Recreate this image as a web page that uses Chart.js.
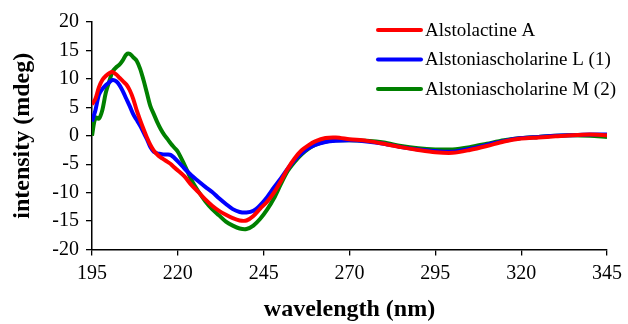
<!DOCTYPE html>
<html>
<head>
<meta charset="utf-8">
<script src="https://cdn.jsdelivr.net/npm/chart.js@4/dist/chart.umd.min.js"></script>
<style>
  html, body { margin: 0; padding: 0; background: #fff; }
  #wrap { width: 628px; height: 324px; }
</style>
</head>
<body>
<div id="wrap"><canvas id="cdChart"></canvas></div>
<script>
// wavelength (nm) shared by the three spectra
const wavelengths = [195,196,197,198,199,200,201,202,203,204,205,206,207,208,209,210,211,212,213,214,215,216,217,218,219,220,
  222,224,226,228,230,232,234,236,238,240,242,244,246,248,250,252,254,256,258,260,263,266,270,275,280,285,290,295,300,305,310,315,320,325,330,335,340,345];

const alstolactineA = [5.5,6.5,8.5,9.8,10.5,11,11.2,10.8,10.2,9.6,9,8,6.5,4.5,2.8,1.2,-0.3,-1.6,-2.6,-3.3,-3.8,-4.2,-4.6,-5,-5.6,-6.1,
  -7.2,-8.7,-9.9,-11.2,-12.3,-13.2,-13.9,-14.5,-14.9,-14.9,-14.1,-12.8,-11.6,-10,-8,-5.8,-4,-2.6,-1.7,-1,-0.4,-0.3,-0.6,-0.9,-1.4,-2,-2.5,-2.9,-3,-2.5,-1.8,-1,-0.5,-0.3,-0.1,0.1,0.2,0.1];

const alstoniascholarineL = [2.5,4.5,7.2,8.2,8.9,9.4,9.8,9.6,8.9,7.8,6.5,5.2,3.8,2.8,1.8,0.6,-0.6,-2,-2.8,-3.1,-3.2,-3.3,-3.3,-3.4,-3.9,-4.5,
  -5.8,-7,-8,-9,-9.9,-11,-12,-12.9,-13.4,-13.5,-13.2,-12.2,-10.8,-9.1,-7.5,-5.8,-4.3,-3.1,-2.2,-1.6,-1.1,-0.9,-0.8,-1,-1.4,-2,-2.4,-2.7,-2.8,-2.3,-1.6,-0.9,-0.4,-0.2,0,0.1,0.2,0.2];

const alstoniascholarineM = [0,3.2,3,4.5,7.5,9.5,11.3,12,12.5,13.3,14.3,14.4,13.8,13.2,11.8,9.8,7.5,5.2,3.8,2.4,1.2,0.2,-0.6,-1.4,-2.1,-2.8,
  -5.2,-7.8,-9.8,-11.5,-12.9,-14,-15.1,-15.8,-16.3,-16.4,-15.8,-14.6,-13,-11,-8.5,-6.2,-4.6,-3.3,-2.3,-1.6,-1,-0.8,-0.8,-0.9,-1.2,-1.8,-2.2,-2.4,-2.4,-2,-1.4,-0.8,-0.4,-0.2,0,0.1,0,-0.2];

const seriesNames = ['Alstolactine A', 'Alstoniascholarine L (1)', 'Alstoniascholarine M (2)'];
const seriesColors = ['#ff0000', '#0000ff', '#008000'];
const xTicks = [195, 220, 245, 270, 295, 320, 345];
const yTicks = [-20, -15, -10, -5, 0, 5, 10, 15, 20];

const serif = '"Liberation Serif", "Times New Roman", serif';

function toPoints(ys) {
  return wavelengths.map((w, i) => ({ x: w, y: ys[i] }));
}

// legend drawn inside the plot, top right, like the original
const insideLegend = {
  id: 'insideLegend',
  afterDatasetsDraw(chart) {
    const ctx = chart.ctx;
    ctx.save();
    ctx.font = '19px ' + serif;
    ctx.textBaseline = 'middle';
    chart.data.datasets.forEach((ds, i) => {
      const y = 30 + i * 29.5;
      ctx.strokeStyle = ds.borderColor;
      ctx.lineWidth = 4;
      ctx.lineCap = 'round';
      ctx.beginPath();
      ctx.moveTo(378, y);
      ctx.lineTo(421, y);
      ctx.stroke();
      ctx.fillStyle = '#000';
      ctx.fillText(ds.label, 425, y + 1);
    });
    ctx.restore();
  }
};

new Chart(document.getElementById('cdChart').getContext('2d'), {
  type: 'line',
  data: {
    datasets: [alstolactineA, alstoniascholarineL, alstoniascholarineM].map((vals, i) => ({
      label: seriesNames[i],
      data: toPoints(vals),
      borderColor: seriesColors[i],
      backgroundColor: seriesColors[i],
      borderWidth: 4,
      pointRadius: 0,
      tension: 0.3,
      fill: false
    }))
  },
  options: {
    responsive: true,
    maintainAspectRatio: false,
    animation: false,
    layout: { padding: { top: 22, right: 20, left: 0, bottom: 0 } },
    plugins: { legend: { display: false }, tooltip: { enabled: false } },
    scales: {
      x: {
        type: 'linear',
        min: 195, max: 345,
        afterBuildTicks: s => { s.ticks = xTicks.map(v => ({ value: v })); },
        afterFit: s => { s.height = 74.5; },
        grid: { drawOnChartArea: false, drawTicks: true, tickLength: 6, color: '#000', lineWidth: 1.3 },
        border: { color: '#000', width: 1.5 },
        ticks: { color: '#000', font: { family: serif, size: 20 }, padding: 6, maxRotation: 0 },
        title: { display: true, text: 'wavelength (nm)', color: '#000', font: { family: serif, size: 24, weight: 'bold' }, padding: { top: 2, bottom: 0 } }
      },
      y: {
        min: -20, max: 20,
        afterBuildTicks: s => { s.ticks = yTicks.map(v => ({ value: v })); },
        afterFit: s => { s.width = 92; },
        grid: { drawOnChartArea: false, drawTicks: true, tickLength: 6, color: '#000', lineWidth: 1.3 },
        border: { color: '#000', width: 1.5 },
        ticks: { color: '#000', font: { family: serif, size: 20 }, padding: 7 },
        title: { display: true, text: 'intensity (mdeg)', color: '#000', font: { family: serif, size: 24, weight: 'bold' }, padding: { top: 8, bottom: 4 } }
      }
    }
  },
  plugins: [insideLegend]
});
</script>
</body>
</html>
